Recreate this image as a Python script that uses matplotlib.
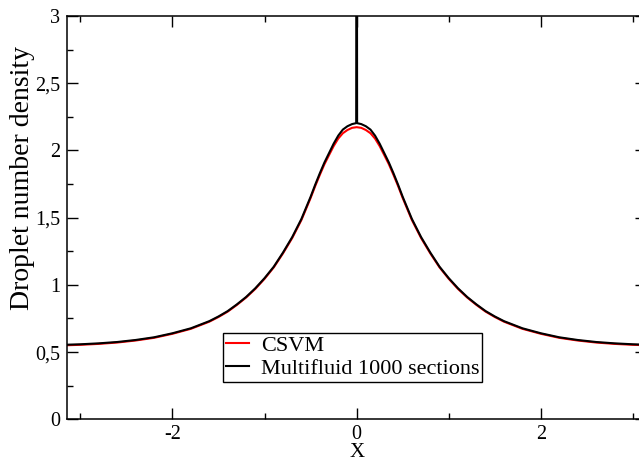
import matplotlib
matplotlib.use("Agg")
import matplotlib.pyplot as plt
from matplotlib.ticker import MultipleLocator, FuncFormatter
import numpy as np

plt.rcParams['font.family'] = ['Liberation Serif', 'DejaVu Serif']

# values
x_csvm = [-3.1416, -3.0, -2.8, -2.6, -2.4, -2.2, -2.0, -1.8, -1.6, -1.5, -1.4, -1.3, -1.2, -1.1,
          -1.0, -0.9, -0.8, -0.7, -0.6, -0.5, -0.45, -0.4, -0.35, -0.3, -0.25, -0.2, -0.15,
          -0.1, -0.05, 0.0, 0.05, 0.1, 0.15, 0.2, 0.25, 0.3, 0.35, 0.4, 0.45, 0.5, 0.6, 0.7,
          0.8, 0.9, 1.0, 1.1, 1.2, 1.3, 1.4, 1.5, 1.6, 1.8, 2.0, 2.2, 2.4, 2.6, 2.8, 3.0, 3.1416]
y_csvm = [0.551, 0.554, 0.561, 0.571, 0.586, 0.606, 0.636, 0.673, 0.726, 0.761, 0.801, 0.851,
          0.906, 0.970, 1.045, 1.130, 1.234, 1.348, 1.482, 1.646, 1.735, 1.818, 1.897, 1.965,
          2.032, 2.088, 2.128, 2.152, 2.168, 2.173, 2.168, 2.152, 2.128, 2.088, 2.032, 1.965,
          1.897, 1.818, 1.735, 1.646, 1.482, 1.348, 1.234, 1.130, 1.045, 0.970, 0.906, 0.851,
          0.801, 0.761, 0.726, 0.673, 0.636, 0.606, 0.586, 0.571, 0.561, 0.554, 0.551]

x_multi = [-3.1416, -3.0, -2.8, -2.6, -2.4, -2.2, -2.0, -1.8, -1.6, -1.5, -1.4, -1.3, -1.2, -1.1,
           -1.0, -0.9, -0.8, -0.7, -0.6, -0.5, -0.45, -0.4, -0.35, -0.3, -0.25, -0.2, -0.15,
           -0.1, -0.05, -0.005, 0.0, 0.005, 0.05, 0.1, 0.15, 0.2, 0.25, 0.3, 0.35, 0.4, 0.45,
           0.5, 0.6, 0.7, 0.8, 0.9, 1.0, 1.1, 1.2, 1.3, 1.4, 1.5, 1.6, 1.8, 2.0, 2.2, 2.4, 2.6,
           2.8, 3.0, 3.1416]
y_multi = [0.555, 0.558, 0.565, 0.575, 0.590, 0.610, 0.640, 0.677, 0.730, 0.765, 0.805, 0.855,
           0.910, 0.975, 1.050, 1.135, 1.240, 1.355, 1.490, 1.655, 1.745, 1.830, 1.910, 1.980,
           2.050, 2.110, 2.155, 2.180, 2.196, 2.203, 6.0, 2.203, 2.196, 2.180, 2.155, 2.110,
           2.050, 1.980, 1.910, 1.830, 1.745, 1.655, 1.490, 1.355, 1.240, 1.135, 1.050, 0.975,
           0.910, 0.855, 0.805, 0.765, 0.730, 0.677, 0.640, 0.610, 0.590, 0.575, 0.565, 0.558,
           0.555]

W, H = 639, 461
fig = plt.figure(figsize=(W / 100, H / 100), dpi=100)
# right frame sits just outside the picture, as in the reference
ax = fig.add_axes([67.3 / W, 1 - 419.3 / H, (646 - 67.3) / W, (419.3 - 16) / H])

ax.plot(x_csvm, y_csvm, color="#ff0000", lw=1.5, label="CSVM")
ax.plot(x_multi, y_multi, color="black", lw=1.5, label="Multifluid 1000 sections")

ax.set_xlim(-np.pi, np.pi)
ax.set_ylim(0, 3)

ax.xaxis.set_major_locator(MultipleLocator(2))
ax.xaxis.set_minor_locator(MultipleLocator(1))
ax.yaxis.set_major_locator(MultipleLocator(0.5))
ax.yaxis.set_minor_locator(MultipleLocator(0.25))

def comma(v, pos):
	s = ("%g" % v).replace(".", ",")
	return s

ax.xaxis.set_major_formatter(FuncFormatter(lambda v, p: "%d" % round(v)))
ax.yaxis.set_major_formatter(FuncFormatter(comma))

ax.tick_params(which="both", direction="in", top=True, right=True, labelsize=14.5, width=1.0)
ax.tick_params(which="major", length=8)
ax.tick_params(which="minor", length=4.5)
ax.tick_params(axis="x", pad=4)
ax.tick_params(axis="y", pad=5)
for s in ax.spines.values():
	s.set_linewidth(1.1)

fig.text(23 / W, 1 - 178 / H, "Droplet number density", rotation=90, ha="center", va="center", fontsize=20)
fig.text(356.7 / W, 1 - 452 / H, "X", ha="center", va="center", fontsize=15)

leg = ax.legend(loc="upper left", bbox_to_anchor=(223 / W, 1 - 333 / H), bbox_transform=fig.transFigure,
	fontsize=16, frameon=True, fancybox=False, borderaxespad=0, handlelength=1.05,
	handletextpad=0.55, labelspacing=0.1, borderpad=0.12)
leg.get_frame().set_edgecolor("black")
leg.get_frame().set_linewidth(1.0)
leg.get_frame().set_alpha(1)

fig.savefig("out.png", dpi=100)
